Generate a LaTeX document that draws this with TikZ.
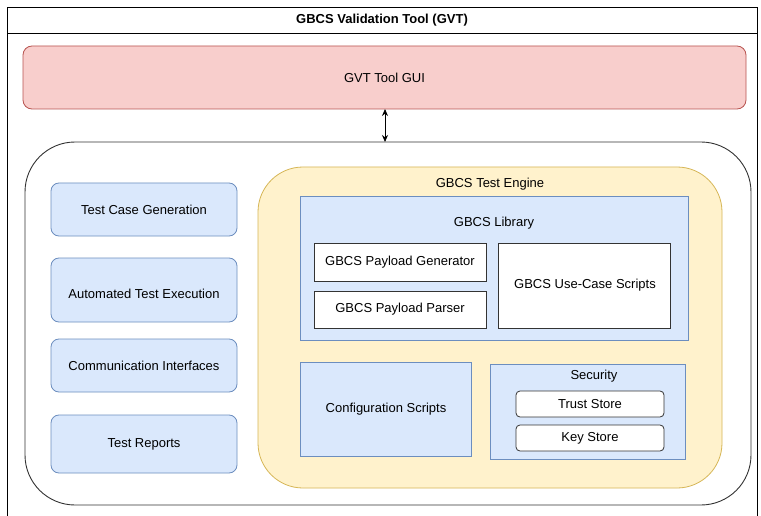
\documentclass[tikz,border=0pt]{standalone}
\usepackage{fontspec}
\setmainfont{Liberation Sans}
\usetikzlibrary{arrows.meta}
\definecolor{bfill}{HTML}{DAE8FC}
\definecolor{bline}{HTML}{6C8EBF}
\definecolor{yfill}{HTML}{FFF2CC}
\definecolor{yline}{HTML}{D6B656}
\definecolor{rfill}{HTML}{F8CECC}
\definecolor{rline}{HTML}{B85450}
\begin{document}
\begin{tikzpicture}[x=1pt,y=-1pt,
  lbl/.style={font=\fontsize{13}{15}\selectfont, text=black},
  bluebox/.style={draw=bline, fill=bfill, line width=0.8pt},
  bluerbox/.style={bluebox, rounded corners=8pt},
  whitebox/.style={draw=black!80, fill=white, line width=0.8pt},
  whiterbox/.style={whitebox, rounded corners=4pt},
]
\useasboundingbox (0,0) rectangle (761,516);
\fill[white] (0,0) rectangle (761,516);
% frame
\begin{scope}
\clip (0,0) rectangle (761,516);
\draw[line width=0.9pt] (7,530) -- (7,7) -- (757,7) -- (757,530);
\draw[line width=0.9pt] (7,33) -- (757,33);
\end{scope}
\node[lbl, font=\fontsize{13}{15}\selectfont\bfseries] (title) at (382,20) {GBCS Validation Tool (GVT)};
% GUI
\draw[draw=rline, fill=rfill, line width=0.8pt, rounded corners=9pt] (23,46) rectangle (746,109);
\node[lbl] (gui) at (384.5,77.5) {GVT Tool GUI};
\coordinate (guib) at (385,109);
% big container
\draw[black!80, line width=0.9pt, rounded corners=50pt] (25,142) rectangle (751,505);
\coordinate (cont) at (385,142);
\draw[{Stealth[length=7pt,width=6pt]}-{Stealth[length=7pt,width=6pt]}, line width=0.8pt] (guib) -- (cont);
% left boxes
\draw[bluerbox] (51,183) rectangle (237,236);
\node[lbl] (tcg) at (144,209.5) {Test Case Generation};
\draw[bluerbox] (51,258) rectangle (237,322);
\node[lbl] (ate) at (144,294) {Automated Test Execution};
\draw[bluerbox] (51,339) rectangle (237,392);
\node[lbl] (ci) at (144,365.5) {Communication Interfaces};
\draw[bluerbox] (51,415) rectangle (237,473);
\node[lbl] (tr) at (144,444) {Test Reports};
% engine
\draw[draw=yline, fill=yfill, line width=0.8pt, rounded corners=45pt] (258,167) rectangle (722,488);
\node[lbl] (eng) at (490,184.5) {GBCS Test Engine};
% library
\draw[bluebox] (300,196) rectangle (688,340);
\node[lbl] (lib) at (494,223.5) {GBCS Library};
\draw[whitebox] (314,243) rectangle (486,281);
\node[lbl] (gen) at (400,262) {GBCS Payload Generator};
\draw[whitebox] (314,291) rectangle (486,328);
\node[lbl] (par) at (400,309.5) {GBCS Payload Parser};
\draw[whitebox] (498,243) rectangle (670,328);
\node[lbl] (uc) at (585,285) {GBCS Use-Case Scripts};
% config
\draw[bluebox] (300,362) rectangle (471,456);
\node[lbl] (cfg) at (386,409) {Configuration Scripts};
% security
\draw[bluebox] (490,364) rectangle (685,459);
\node[lbl] (sec) at (594,376.5) {Security};
\draw[whiterbox] (516,391) rectangle (664,417);
\node[lbl] (ts) at (590,404) {Trust Store};
\draw[whiterbox] (516,425) rectangle (664,451);
\node[lbl] (ks) at (590,438) {Key Store};
\end{tikzpicture}
\end{document}
